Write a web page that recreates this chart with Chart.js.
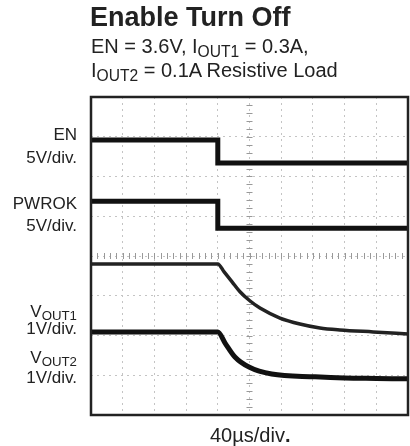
<!DOCTYPE html>
<html>
<head>
<meta charset="utf-8">
<script src="https://cdn.jsdelivr.net/npm/chart.js@4/dist/chart.umd.min.js"></script>
<style>
  body { margin: 0; background: #fff; }
  #wrap { position: relative; width: 410px; height: 446px; font-family: "Liberation Sans", Arial, sans-serif; color: #222; }
  canvas { position: absolute; left: 0; top: 0; }
  .t { position: absolute; white-space: nowrap; }
  .lbl { position: absolute; right: 333px; text-align: right; font-size: 17px; line-height: 18px; white-space: nowrap; }
  sub { font-size: 0.78em; vertical-align: -0.25em; line-height: 0; }
</style>
</head>
<body>
<div id="wrap">
  <canvas id="scope" width="410" height="446"></canvas>
  <div class="t" style="left:90px;top:1px;font-size:27px;line-height:32px;font-weight:bold;">Enable Turn Off</div>
  <div class="t" style="left:91px;top:34px;font-size:20px;line-height:24px;">EN = 3.6V, I<sub>OUT1</sub> = 0.3A,<br>I<sub>OUT2</sub> = 0.1A Resistive Load</div>
  <div class="lbl" style="top:126px;">EN</div>
  <div class="lbl" style="top:149px;">5V/div.</div>
  <div class="lbl" style="top:195px;">PWROK</div>
  <div class="lbl" style="top:217px;">5V/div.</div>
  <div class="lbl" style="top:303px;">V<sub>OUT1</sub></div>
  <div class="lbl" style="top:320px;">1V/div.</div>
  <div class="lbl" style="top:349px;">V<sub>OUT2</sub></div>
  <div class="lbl" style="top:369px;">1V/div.</div>
  <div class="t" style="left:210px;top:424px;font-size:20px;line-height:22px;">40&micro;s/div<b>.</b></div>
</div>
<script>
// time in divisions (40us/div), levels in divisions from bottom of screen
const stepTime = [0, 4, 4, 10];
const enLevel = [6.92, 6.92, 6.34, 6.34];
const pwrokLevel = [5.38, 5.38, 4.70, 4.70];

const vout1Time = [0, 4, 4.2, 4.45, 4.7, 5.0, 5.33, 5.96, 6.59, 7.22, 7.85, 8.9, 10];
const vout1Level = [3.80, 3.80, 3.60, 3.35, 3.10, 2.88, 2.69, 2.44, 2.29, 2.19, 2.14, 2.09, 2.04];

const vout2Time = [0, 4, 4.23, 4.54, 5.0, 5.7, 7.07, 8, 9, 10];
const vout2Level = [2.09, 2.09, 1.81, 1.46, 1.20, 1.03, 0.96, 0.93, 0.92, 0.91];

const pts = (xs, ys) => xs.map((x, i) => ({ x: x, y: ys[i] }));

const traceStyle = (w, c) => ({
  borderColor: c || '#111',
  borderWidth: w,
  pointRadius: 0,
  fill: false
});

// scope graticule: frame + tick marks along the centre lines
const graticule = {
  id: 'graticule',
  beforeDatasetsDraw(chart) {
    const { ctx, scales: { x, y } } = chart;
    ctx.save();
    ctx.strokeStyle = '#999';
    ctx.lineWidth = 1;
    const cx = x.getPixelForValue(5), cy = y.getPixelForValue(4);
    for (let v = 0; v <= 10.01; v += 0.2) {
      const px = Math.round(x.getPixelForValue(v)) + 0.5;
      ctx.beginPath(); ctx.moveTo(px, cy - 3); ctx.lineTo(px, cy + 3); ctx.stroke();
    }
    for (let v = 0; v <= 8.01; v += 0.2) {
      const py = Math.round(y.getPixelForValue(v)) + 0.5;
      ctx.beginPath(); ctx.moveTo(cx - 3, py); ctx.lineTo(cx + 3, py); ctx.stroke();
    }
    ctx.restore();
  },
  afterDraw(chart) {
    const { ctx, chartArea: a } = chart;
    ctx.save();
    ctx.strokeStyle = '#222';
    ctx.lineWidth = 2.5;
    ctx.strokeRect(a.left, a.top, a.right - a.left, a.bottom - a.top);
    ctx.restore();
  }
};

new Chart(document.getElementById('scope'), {
  type: 'line',
  data: {
    datasets: [
      { label: 'EN', data: pts(stepTime, enLevel), ...traceStyle(5) },
      { label: 'PWROK', data: pts(stepTime, pwrokLevel), ...traceStyle(5) },
      { label: 'VOUT1', data: pts(vout1Time, vout1Level), ...traceStyle(3.5, '#222'), cubicInterpolationMode: 'monotone' },
      { label: 'VOUT2', data: pts(vout2Time, vout2Level), ...traceStyle(5), cubicInterpolationMode: 'monotone' }
    ]
  },
  options: {
    responsive: false,
    animation: false,
    layout: { padding: { left: 91, top: 97, right: 2, bottom: 31 } },
    plugins: { legend: { display: false }, tooltip: { enabled: false } },
    scales: {
      x: {
        type: 'linear', min: 0, max: 10,
        ticks: { display: false, stepSize: 1 },
        grid: { color: '#c4c4c4', drawTicks: false, lineWidth: 1 },
        border: { display: false, dash: [2, 4] }
      },
      y: {
        type: 'linear', min: 0, max: 8,
        ticks: { display: false, stepSize: 1 },
        grid: { color: '#c4c4c4', drawTicks: false, lineWidth: 1 },
        border: { display: false, dash: [2, 4] }
      }
    }
  },
  plugins: [graticule]
});
</script>
</body>
</html>
